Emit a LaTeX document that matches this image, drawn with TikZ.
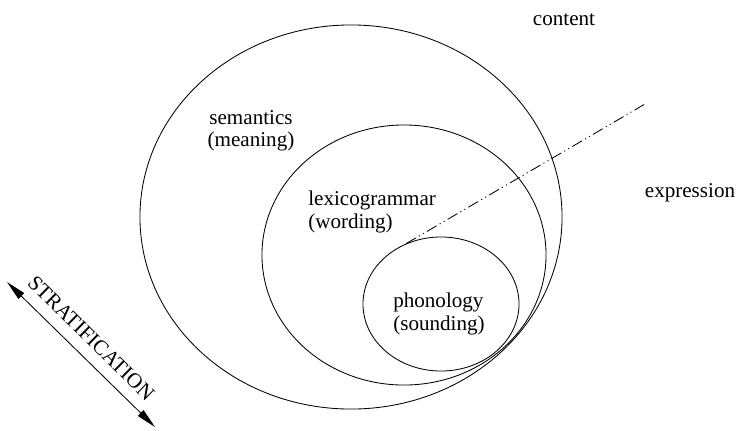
\documentclass[tikz,border=0pt]{standalone}
\usepackage{fontspec}
\setmainfont{Liberation Serif}
\usepackage{tikz}
\usetikzlibrary{shapes.geometric, arrows.meta}

\begin{document}
\begin{tikzpicture}[x=0.025cm, y=-0.025cm,
    stratum/.style={draw, ellipse, line width=0.6pt, inner sep=0pt},
    lbl/.style={font=\fontsize{15}{16}\selectfont, align=left, inner sep=0pt},
    dashdotdot/.style={line width=0.6pt, dash pattern=on 8pt off 2.5pt on 0.8pt off 2.5pt on 0.8pt off 2.5pt}]
    \useasboundingbox (0,0) rectangle (737,430);

    % The three strata
    \node[stratum, minimum width=10.55cm, minimum height=9.6cm] (semantics) at (351,217) {};
    \node[stratum, minimum width=7.1cm, minimum height=6.5cm] (lexgram) at (404,255) {};
    \node[stratum, minimum width=3.9cm, minimum height=3.35cm] (phonology) at (441,304) {};

    % Labels
    \node[lbl, align=center] (semlbl) at (251,131) {semantics\\(meaning)};
    \node[lbl, anchor=west] (lexlbl) at (308,212) {lexicogrammar\\(wording)};
    \node[lbl, anchor=west] (phonlbl) at (393,314) {phonology\\(sounding)};

    % Content / expression
    \coordinate (planeEnd) at (645,104);
    \draw[dashdotdot] (phonology.120) -- (planeEnd);
    \node[lbl] (content) at (564,20) {content};
    \node[lbl] (expression) at (690,193) {expression};

    % Stratification arrow
    \coordinate (stratTop) at (7,282);
    \coordinate (stratBot) at (155,427);
    \draw[line width=0.6pt, {Triangle[length=5mm, width=2mm]}-{Triangle[length=5mm, width=2mm]}] (stratTop) -- (stratBot)
        node[pos=0.48, sloped, above=8pt, lbl] (stratlbl) {STRATIFICATION};
\end{tikzpicture}
\end{document}
